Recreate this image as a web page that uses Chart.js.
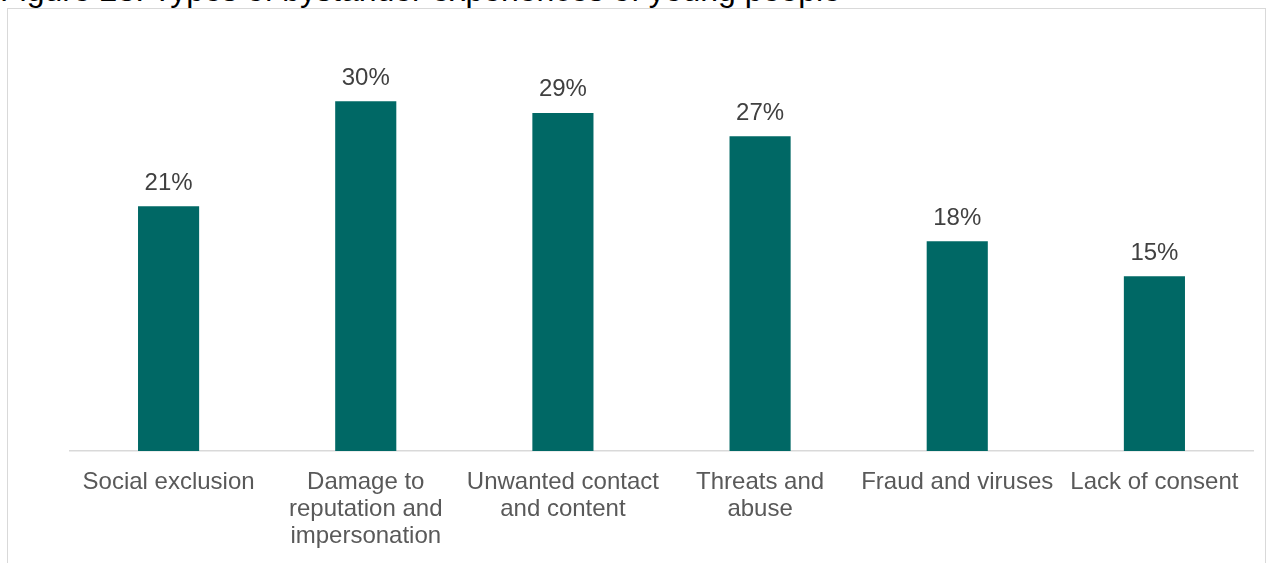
<!DOCTYPE html>
<html>
<head>
<meta charset="utf-8">
<title>Types of bystander experiences of young people</title>
<script src="https://cdn.jsdelivr.net/npm/chart.js@4/dist/chart.umd.min.js"></script>
<style>
  html, body { margin: 0; padding: 0; background: #fff; overflow: hidden; }
  #page { position: relative; width: 1267px; height: 563px; overflow: hidden; }
  #heading {
    position: absolute; left: 0; top: -28px; white-space: nowrap;
    font: 32px "Liberation Sans", Arial, sans-serif; color: #000; line-height: 36px;
  }
  #frame {
    position: absolute; left: 7px; top: 8px; width: 1257px; height: 620px;
    border: 1px solid #d9d9d9;
  }
  #chartBox { position: absolute; left: 0; top: 0; width: 1267px; height: 563px; }
</style>
</head>
<body>
<div id="page">
  <div id="heading">Figure 23: Types of bystander experiences of young people</div>
  <div id="frame"></div>
  <div id="chartBox"><canvas id="myChart"></canvas></div>
</div>
<script>
// categories, one entry per bar (split into the lines shown under the axis)
const categories = [
  ['Social exclusion'],
  ['Damage to', 'reputation and', 'impersonation'],
  ['Unwanted contact', 'and content'],
  ['Threats and', 'abuse'],
  ['Fraud and viruses'],
  ['Lack of consent']
];
// share of young people, %
const shares = [21, 30, 29, 27, 18, 15];

const barColour = '#006865';
const fontFamily = '"Liberation Sans", Arial, sans-serif';

// writes "NN%" above each bar
const valueLabels = {
  id: 'valueLabels',
  afterDatasetsDraw(chart) {
    const ctx = chart.ctx;
    const meta = chart.getDatasetMeta(0);
    ctx.save();
    ctx.font = '24px ' + fontFamily;
    ctx.fillStyle = '#404040';
    ctx.textAlign = 'center';
    ctx.textBaseline = 'alphabetic';
    meta.data.forEach((bar, i) => {
      ctx.fillText(shares[i] + '%', bar.x, bar.y - 16.5);
    });
    ctx.restore();
  }
};

new Chart(document.querySelector('#myChart'), {
  type: 'bar',
  data: {
    labels: categories,
    datasets: [{
      data: shares,
      backgroundColor: barColour,
      borderWidth: 0,
      barPercentage: 0.31,
      categoryPercentage: 1
    }]
  },
  options: {
    responsive: true,
    maintainAspectRatio: false,
    animation: false,
    layout: { padding: { left: 70, right: 14, top: 43, bottom: 0 } },
    plugins: {
      legend: { display: false },
      tooltip: { enabled: false }
    },
    scales: {
      x: {
        grid: { display: false, drawTicks: false },
        border: { display: true, color: '#d9d9d9', width: 1.5 },
        ticks: {
          color: '#595959',
          font: { family: fontFamily, size: 24, lineHeight: 1.125 },
          padding: 18,
          maxRotation: 0,
          autoSkip: false
        },
        afterFit(scale) { scale.height = 112; }
      },
      y: {
        display: false,
        min: 0,
        max: 35
      }
    }
  },
  plugins: [valueLabels]
});
</script>
</body>
</html>
